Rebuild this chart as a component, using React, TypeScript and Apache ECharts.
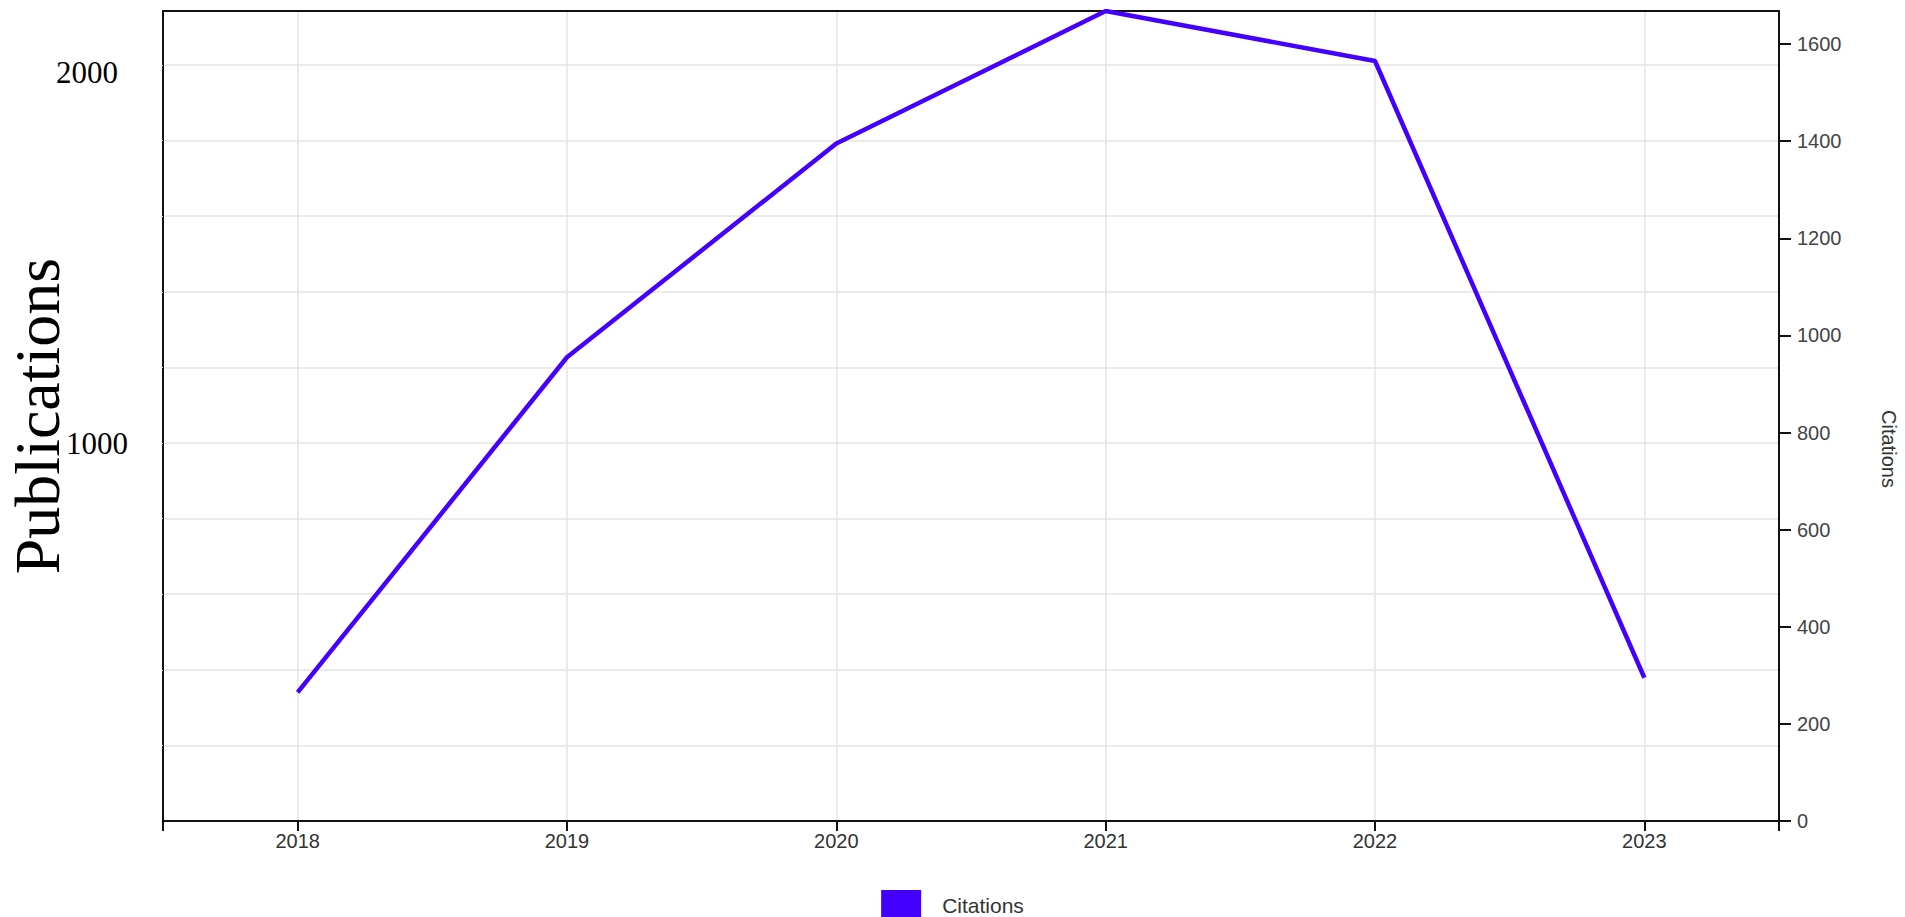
import React, { useEffect, useRef } from "react";
import * as echarts from "echarts";

const years = ["2018", "2019", "2020", "2021", "2022", "2023"];
const citations = [265, 955, 1395, 1668, 1565, 295];
const pubTickLabels = ["1000", "2000"];
const pubMax = 2143;
const citMax = 1668;

export default function App() {
  const ref = useRef<HTMLDivElement>(null);
  useEffect(() => {
    if (!ref.current) return;
    const chart = echarts.init(ref.current, null, { renderer: "svg" });
    const xVals = years.map((_, i) => i);
    const xTicks = [-0.5, ...xVals, years.length - 0.5];
    const axisLineStyle = { color: "#111", width: 2 };
    chart.setOption({
      animation: false,
      backgroundColor: "#fff",
      grid: { left: 163, right: 126, top: 11, bottom: 96, containLabel: false, outerBoundsMode: "none" },
      legend: {
        top: 890,
        left: "center",
        icon: "rect",
        itemWidth: 40,
        itemHeight: 30,
        padding: 0,
        textStyle: { fontFamily: "Liberation Sans, Arial", fontSize: 21, lineHeight: 22, color: "#333", padding: [0, 0, 0, 16] },
        data: [{ name: "Citations", itemStyle: { color: "#4400ff" } }],
      },
      xAxis: [
        {
          type: "value",
          min: -0.5,
          max: years.length - 0.5,
          position: "bottom",
          axisLine: { show: true, onZero: false, lineStyle: axisLineStyle },
          axisTick: { show: true, length: 10, customValues: xTicks, lineStyle: axisLineStyle },
          axisLabel: {
            customValues: xVals,
            formatter: (v: number) => years[Math.round(v)] ?? "",
            fontFamily: "Liberation Sans, Arial",
            fontSize: 20,
            color: "#333",
            margin: 10,
          },
          splitLine: { show: true, lineStyle: { color: "#e4e4e4", width: 1.5 } },
        },
        {
          type: "value",
          min: -0.5,
          max: years.length - 0.5,
          position: "top",
          axisLine: { show: true, onZero: false, lineStyle: axisLineStyle },
          axisTick: { show: false },
          axisLabel: { show: false },
          splitLine: { show: false },
        },
      ],
      yAxis: [
        {
          type: "value",
          min: 0,
          max: pubMax,
          interval: 200,
          position: "left",
          name: "Publications",
          nameLocation: "middle",
          nameRotate: 90,
          nameGap: 94,
          nameMoveOverlap: false,
          nameTextStyle: { fontFamily: "Liberation Serif, Times New Roman, serif", fontSize: 64, color: "#000" },
          axisLine: { show: true, onZero: false, lineStyle: axisLineStyle },
          axisTick: { show: true, length: 2, lineStyle: { color: "#ddd" } },
          axisLabel: {
            margin: 35,
            showMaxLabel: false,
            formatter: (v: number) => {
              const s = String(v);
              if (!pubTickLabels.includes(s)) return "";
              return s === "2000" ? `{b|${s}}` : `{a|${s}}`;
            },
            rich: {
              a: { fontFamily: "Liberation Serif, Times New Roman, serif", fontSize: 31, color: "#000" },
              b: { fontFamily: "Liberation Serif, Times New Roman, serif", fontSize: 31, color: "#000", padding: [14, 10, 0, 0] },
            },
          },
          splitLine: { show: true, lineStyle: { color: "#e4e4e4", width: 1.5 } },
        },
        {
          type: "value",
          min: 0,
          max: citMax,
          interval: 200,
          position: "right",
          name: "Citations",
          nameLocation: "middle",
          nameRotate: -90,
          nameGap: 100,
          nameMoveOverlap: false,
          nameTextStyle: { fontFamily: "Liberation Sans, Arial", fontSize: 20, color: "#333", padding: [0, 0, 0, 66] },
          axisLine: { show: true, onZero: false, lineStyle: axisLineStyle },
          axisTick: { show: true, length: 12, lineStyle: axisLineStyle },
          axisLabel: {
            showMaxLabel: false,
            formatter: (v: number) => String(v),
            fontFamily: "Liberation Sans, Arial",
            fontSize: 20,
            color: "#444",
            margin: 18,
          },
          splitLine: { show: false },
        },
      ],
      series: [
        {
          name: "Citations",
          type: "line",
          xAxisIndex: 0,
          yAxisIndex: 1,
          data: citations.map((v, i) => [xVals[i], v]),
          showSymbol: false,
          symbol: "none",
          lineStyle: { color: "#4400ff", width: 4.5 },
          itemStyle: { color: "#4400ff" },
        },
      ],
    });
    return () => chart.dispose();
  }, []);
  return (
    <div
      ref={ref}
      style={{ position: "fixed", left: 0, top: 0, width: 1905, height: 917, background: "#fff" }}
    />
  );
}
